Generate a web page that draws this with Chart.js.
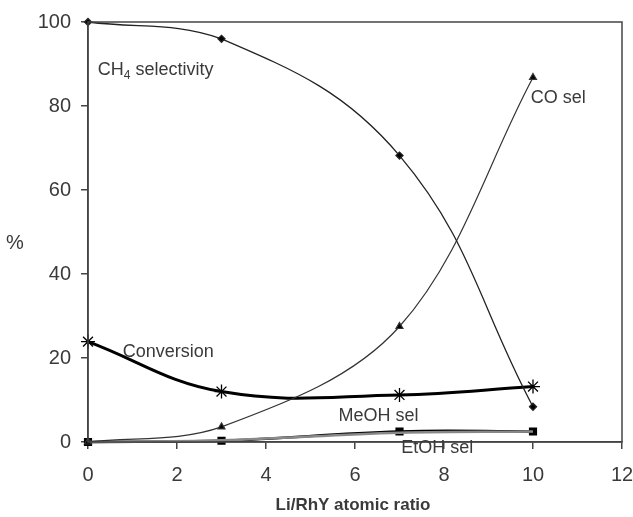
<!DOCTYPE html>
<html>
<head>
<meta charset="utf-8">
<script src="https://cdn.jsdelivr.net/npm/chart.js@4"></script>
<style>
  html, body { margin: 0; padding: 0; background: #fff; }
  #wrap { width: 633px; height: 517px; }
</style>
</head>
<body>
<div id="wrap"><canvas id="chart" width="633" height="517"></canvas></div>
<script>
// values
const ratio = [0, 3, 7, 10];
const ch4Sel = [100, 96, 68.2, 8.4];
const coSel = [0, 3.6, 27.5, 86.8];
const conversion = [23.9, 12, 11.2, 13.2];
const meohSel = [0, 0.3, 2.5, 2.5];
const etohSel = [0, 0.4, 2.2, 2.5];
const xTicks = [0, 2, 4, 6, 8, 10, 12];
const yTicks = [0, 20, 40, 60, 80, 100];

const pts = (ys) => ys.map((y, i) => ({ x: ratio[i], y: y }));

// text labels next to the curves
const curveLabels = [
  { text: 'CH', sub: '4', rest: ' selectivity', x: 0.22, y: 88.5 },
  { text: 'CO sel', x: 9.95, y: 82 },
  { text: 'Conversion', x: 0.78, y: 21.5 },
  { text: 'MeOH sel', x: 5.63, y: 6.2 },
  { text: 'EtOH sel', x: 7.04, y: -1.4 },
];

const textColor = '#3a3a3a';
const fontFam = '"Liberation Sans", Arial, sans-serif';

const extras = {
  id: 'extras',
  afterDraw(chart) {
    const { ctx, chartArea: a, scales } = chart;
    ctx.save();
    // box round the plot
    ctx.strokeStyle = '#444';
    ctx.lineWidth = 1.5;
    ctx.strokeRect(a.left, a.top, a.right - a.left, a.bottom - a.top);

    ctx.fillStyle = textColor;
    ctx.textBaseline = 'middle';
    ctx.textAlign = 'left';
    curveLabels.forEach((l) => {
      const px = scales.x.getPixelForValue(l.x);
      const py = scales.y.getPixelForValue(l.y);
      ctx.font = '18px ' + fontFam;
      ctx.fillText(l.text, px, py);
      if (l.sub) {
        let w = ctx.measureText(l.text).width;
        ctx.font = '12px ' + fontFam;
        ctx.fillText(l.sub, px + w, py + 5);
        w += ctx.measureText(l.sub).width;
        ctx.font = '18px ' + fontFam;
        ctx.fillText(l.rest, px + w, py);
      }
    });

    // axis titles
    ctx.font = '20px ' + fontFam;
    ctx.fillText('%', 6, 243);
    ctx.font = 'bold 17px ' + fontFam;
    ctx.textAlign = 'center';
    ctx.fillText('Li/RhY atomic ratio', 353, 505);
    ctx.restore();
  }
};

new Chart(document.getElementById('chart'), {
  type: 'scatter',
  data: {
    datasets: [
      {
        label: 'CH4 selectivity',
        data: pts(ch4Sel),
        showLine: true,
        borderColor: '#222',
        backgroundColor: '#000',
        borderWidth: 1.3,
        tension: 0.4,
        pointStyle: 'rectRot',
        pointRadius: 3.5,
      },
      {
        label: 'CO sel',
        data: pts(coSel),
        showLine: true,
        borderColor: '#333',
        backgroundColor: '#000',
        borderWidth: 1.2,
        tension: 0.35,
        pointStyle: 'triangle',
        pointRadius: 4,
      },
      {
        label: 'Conversion',
        data: pts(conversion),
        showLine: true,
        borderColor: '#000',
        backgroundColor: '#000',
        borderWidth: 3,
        tension: 0.4,
        pointStyle: 'star',
        pointRadius: 7,
        pointBorderWidth: 1.3,
      },
      {
        label: 'EtOH sel',
        data: pts(etohSel),
        showLine: true,
        borderColor: '#888',
        backgroundColor: '#fff',
        borderWidth: 2.5,
        tension: 0.4,
        pointRadius: 0,
      },
      {
        label: 'MeOH sel',
        data: pts(meohSel),
        showLine: true,
        borderColor: '#000',
        backgroundColor: '#000',
        borderWidth: 2.5,
        tension: 0.4,
        pointStyle: 'rect',
        pointRadius: 4,
      },
    ],
  },
  options: {
    responsive: false,
    animation: false,
    clip: false,
    layout: { padding: { top: 22, right: 11, left: 0, bottom: 0 } },
    plugins: { legend: { display: false }, tooltip: { enabled: false } },
    scales: {
      x: {
        type: 'linear',
        min: 0,
        max: 12,
        afterBuildTicks: (s) => { s.ticks = xTicks.map((v) => ({ value: v })); },
        afterFit: (s) => { s.height = 75; s.paddingLeft = 0; s.paddingRight = 0; },
        ticks: { color: textColor, font: { family: fontFam, size: 20 }, padding: 14 },
        grid: { drawOnChartArea: false, tickLength: 7, color: '#444', lineWidth: 1.5 },
        border: { color: '#444', width: 1.5 },
      },
      y: {
        type: 'linear',
        min: 0,
        max: 100,
        afterBuildTicks: (s) => { s.ticks = yTicks.map((v) => ({ value: v })); },
        afterFit: (s) => { s.width = 88; s.paddingTop = 0; s.paddingBottom = 0; },
        ticks: { color: textColor, font: { family: fontFam, size: 20 }, padding: 10 },
        grid: { drawOnChartArea: false, tickLength: 7, color: '#444', lineWidth: 1.5 },
        border: { color: '#444', width: 1.5 },
      },
    },
  },
  plugins: [extras],
});
</script>
</body>
</html>
